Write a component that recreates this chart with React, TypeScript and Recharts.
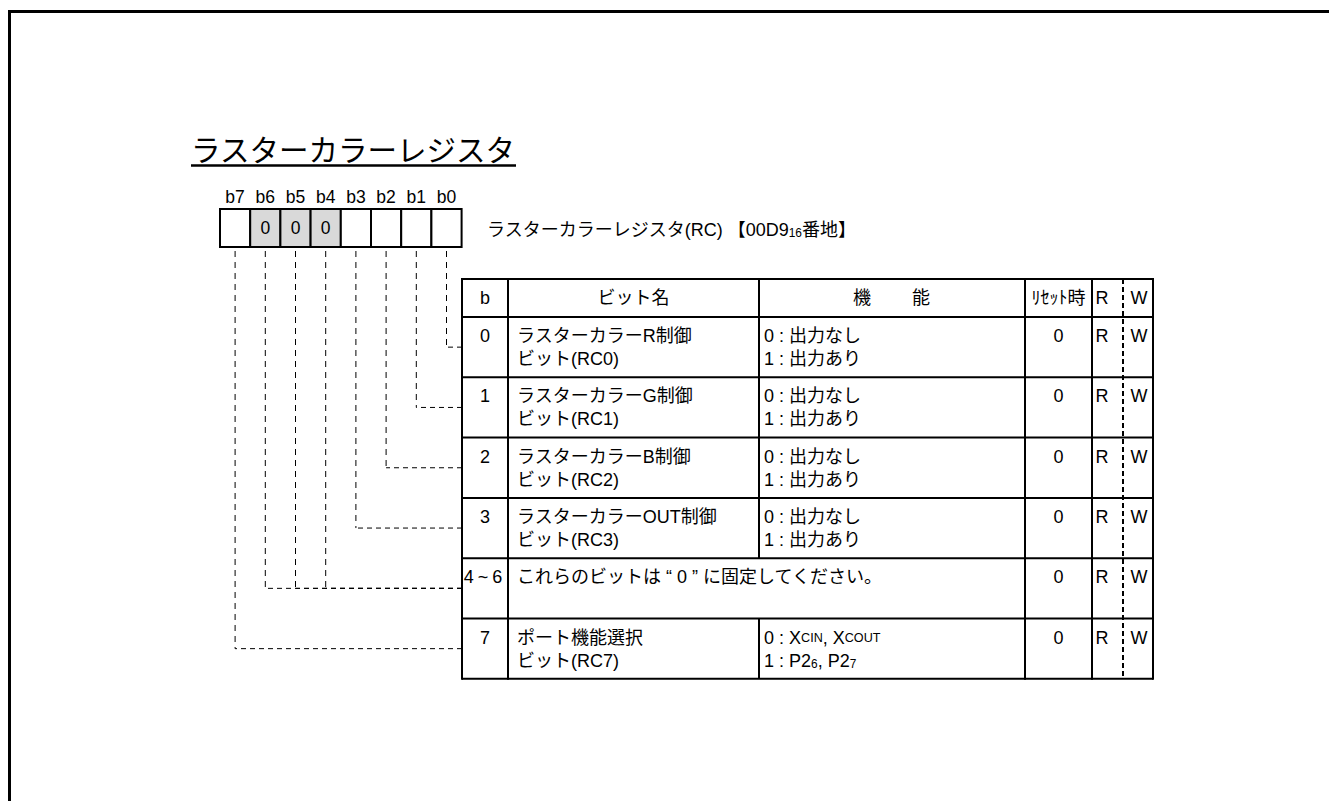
import { ScatterChart, Scatter, XAxis, YAxis, ReferenceLine, ReferenceArea } from 'recharts'

const W = 1329
const H = 801
const FONT = "'Liberation Sans', Arial, 'Noto Sans CJK JP', sans-serif"

// register content
const title = 'ラスターカラーレジスタ'
const caption = 'ラスターカラーレジスタ(RC) 【00D9{16}番地】'
const bitLabels = ['b7', 'b6', 'b5', 'b4', 'b3', 'b2', 'b1', 'b0']
const bitFixed = ['', '0', '0', '0', '', '', '', '']
const bitRowIndex = [5, 4, 4, 4, 3, 2, 1, 0]

const headerLabels = ['b', 'ビット名', '機', '能', 'ﾘｾｯﾄ時', 'R', 'W']
const rowBits = ['0', '1', '2', '3', '4~6', '7']
const rowNames = [
  ['ラスターカラーR制御', 'ビット(RC0)'],
  ['ラスターカラーG制御', 'ビット(RC1)'],
  ['ラスターカラーB制御', 'ビット(RC2)'],
  ['ラスターカラーOUT制御', 'ビット(RC3)'],
  [],
  ['ポート機能選択', 'ビット(RC7)'],
]
const rowFunctions = [
  ['0 : 出力なし', '1 : 出力あり'],
  ['0 : 出力なし', '1 : 出力あり'],
  ['0 : 出力なし', '1 : 出力あり'],
  ['0 : 出力なし', '1 : 出力あり'],
  [],
  ['0 : X[CIN], X[COUT]', '1 : P2{6}, P2{7}'],
]
const rowNotes = ['', '', '', '', 'これらのビットは “ 0 ” に固定してください。', '']
const rowResets = ['0', '0', '0', '0', '0', '0']
const rowAccess = [['R', 'W'], ['R', 'W'], ['R', 'W'], ['R', 'W'], ['R', 'W'], ['R', 'W']]

// layout
const BOX_LEFT = 220
const BOX_TOP = 209
const BOX_BOTTOM = 247
const CELL = 30.2
const COLS = [462, 508, 759, 1025, 1092, 1153]
const RW_SPLIT = 1123
const TABLE_TOP = 279
const HEAD_BOTTOM = 317
const ROW_H = 60.3

const bitX = (i: number) => BOX_LEFT + CELL * (i + 0.5)
const rowTop = (r: number) => HEAD_BOTTOM + ROW_H * r
const rowMid = (r: number) => rowTop(r) + ROW_H / 2

interface Label { x: number; y: number; text: string; size: number; anchor: 'start' | 'middle' | 'end'; spacing?: number }

function renderParts(text: string, size: number) {
  const parts = text.split(/(\{[^}]*\}|\[[^\]]*\])/).filter(p => p !== '')
  const out: any[] = []
  let shift = 0
  parts.forEach((p, i) => {
    if (p.startsWith('{')) {
      out.push(<tspan key={i} fontSize={size * 0.66} dy={3 - shift}>{p.slice(1, -1)}</tspan>)
      shift = 3
    } else if (p.startsWith('[')) {
      out.push(<tspan key={i} fontSize={size * 0.7} dy={-shift}>{p.slice(1, -1)}</tspan>)
      shift = 0
    } else {
      out.push(<tspan key={i} dy={-shift}>{p}</tspan>)
      shift = 0
    }
  })
  return out
}

function TextShape(props: any) {
  const { cx, cy, payload } = props
  if (cx == null || cy == null) return null
  return (
    <text x={cx} y={cy} textAnchor={payload.anchor} dominantBaseline="central"
      fontSize={payload.size} fontFamily={FONT} fill="#000" letterSpacing={payload.spacing ?? 0}>
      {renderParts(payload.text, payload.size)}
    </text>
  )
}

const labels: Label[] = []
labels.push({ x: 191, y: 150, text: title, size: 29.5, anchor: 'start' })
bitLabels.forEach((b, i) => labels.push({ x: bitX(i), y: 197, text: b, size: 17.5, anchor: 'middle' }))
bitFixed.forEach((v, i) => { if (v) labels.push({ x: bitX(i), y: 228, text: v, size: 17.5, anchor: 'middle' }) })
labels.push({ x: 487, y: 230, text: caption, size: 18, anchor: 'start' })

const headY = (TABLE_TOP + HEAD_BOTTOM) / 2
const headX = [(COLS[0] + COLS[1]) / 2, (COLS[1] + COLS[2]) / 2, 862, 921, (COLS[3] + COLS[4]) / 2, 1102, 1139]
headerLabels.forEach((h, i) => labels.push({ x: headX[i], y: headY, text: h, size: 18, anchor: 'middle' }))

rowBits.forEach((b, r) => {
  const y1 = rowTop(r) + 19
  const y2 = rowTop(r) + 42
  labels.push({ x: (COLS[0] + COLS[1]) / 2, y: y1, text: b, size: 18, anchor: 'middle', spacing: b.length > 1 ? 4 : 0 })
  rowNames[r].forEach((t, k) => labels.push({ x: 517, y: k ? y2 : y1, text: t, size: 18, anchor: 'start' }))
  rowFunctions[r].forEach((t, k) => labels.push({ x: 764, y: k ? y2 : y1, text: t, size: 18, anchor: 'start' }))
  if (rowNotes[r]) labels.push({ x: 517, y: y1, text: rowNotes[r], size: 18, anchor: 'start' })
  labels.push({ x: (COLS[3] + COLS[4]) / 2, y: y1, text: rowResets[r], size: 18, anchor: 'middle' })
  labels.push({ x: 1102, y: y1, text: rowAccess[r][0], size: 18, anchor: 'middle' })
  labels.push({ x: 1139, y: y1, text: rowAccess[r][1], size: 18, anchor: 'middle' })
})

const TABLE_BOTTOM = rowTop(rowBits.length)
const NOTE_ROW = rowNotes.findIndex(n => n !== '')

export default function App() {
  const line = { stroke: '#000', ifOverflow: 'visible' as const }
  return (
    <div style={{ position: 'fixed', left: 0, top: 0, width: W, height: H, background: '#fff' }}>
      <ScatterChart width={W} height={H} margin={{ top: 0, right: 0, bottom: 0, left: 0 }}>
        <XAxis type="number" dataKey="x" domain={[0, W]} hide allowDataOverflow />
        <YAxis type="number" dataKey="y" domain={[0, H]} reversed hide allowDataOverflow />

        {/* page frame */}
        <ReferenceLine segment={[{ x: 8, y: 11.5 }, { x: W, y: 11.5 }]} {...line} strokeWidth={3} />
        <ReferenceLine segment={[{ x: 9.5, y: 10 }, { x: 9.5, y: H }]} {...line} strokeWidth={3} />

        {/* title underline */}
        <ReferenceLine segment={[{ x: 191, y: 165.5 }, { x: 516, y: 165.5 }]} {...line} strokeWidth={2.5} />

        {/* register cells */}
        {bitLabels.map((b, i) => (
          <ReferenceArea key={b} x1={BOX_LEFT + CELL * i} x2={BOX_LEFT + CELL * (i + 1)} y1={BOX_TOP} y2={BOX_BOTTOM}
            fill={bitFixed[i] ? '#d9d9d9' : '#fff'} fillOpacity={1} stroke="#000" strokeWidth={2} ifOverflow="visible" />
        ))}

        {/* connectors */}
        {bitLabels.map((b, i) => (
          <ReferenceLine key={'v' + b} segment={[{ x: bitX(i), y: 251 }, { x: bitX(i), y: rowMid(bitRowIndex[i]) }]}
            {...line} strokeWidth={1} strokeDasharray="6 5" />
        ))}
        {bitLabels.map((b, i) => (
          <ReferenceLine key={'h' + b} segment={[{ x: COLS[0], y: rowMid(bitRowIndex[i]) }, { x: bitX(i), y: rowMid(bitRowIndex[i]) }]}
            {...line} strokeWidth={1} strokeDasharray="5 4" />
        ))}

        {/* table grid */}
        <ReferenceLine segment={[{ x: COLS[0], y: TABLE_TOP }, { x: COLS[5], y: TABLE_TOP }]} {...line} strokeWidth={2} />
        <ReferenceLine segment={[{ x: COLS[0], y: HEAD_BOTTOM }, { x: COLS[5], y: HEAD_BOTTOM }]} {...line} strokeWidth={2} />
        {rowBits.map((b, r) => (
          <ReferenceLine key={'r' + b} segment={[{ x: COLS[0], y: rowTop(r + 1) }, { x: COLS[5], y: rowTop(r + 1) }]}
            {...line} strokeWidth={2} />
        ))}
        {COLS.map((c, i) => i === 2 ? null : (
          <ReferenceLine key={'c' + i} segment={[{ x: c, y: TABLE_TOP - 1 }, { x: c, y: TABLE_BOTTOM + 1 }]} {...line} strokeWidth={2} />
        ))}
        <ReferenceLine segment={[{ x: COLS[2], y: TABLE_TOP }, { x: COLS[2], y: rowTop(NOTE_ROW) }]} {...line} strokeWidth={2} />
        <ReferenceLine segment={[{ x: COLS[2], y: rowTop(NOTE_ROW + 1) }, { x: COLS[2], y: TABLE_BOTTOM }]} {...line} strokeWidth={2} />
        <ReferenceLine segment={[{ x: RW_SPLIT, y: TABLE_TOP }, { x: RW_SPLIT, y: TABLE_BOTTOM }]} {...line}
          strokeWidth={2} strokeDasharray="5 3" />

        <Scatter data={labels} shape={<TextShape />} isAnimationActive={false} />
      </ScatterChart>
    </div>
  )
}
